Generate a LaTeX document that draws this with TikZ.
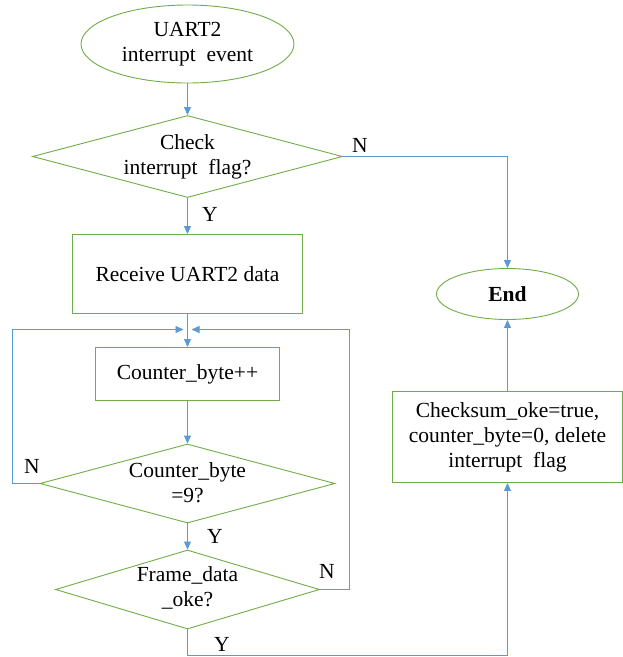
\documentclass[tikz,border=0pt]{standalone}
\usepackage{fontspec}
\setmainfont{Liberation Serif}
\usetikzlibrary{shapes.geometric,arrows.meta}
\definecolor{boxgreen}{RGB}{112,173,71}
\definecolor{flowblue}{RGB}{91,155,213}
\begin{document}
\begin{tikzpicture}[x=1pt,y=-1pt,
  flowtext/.style={font=\fontsize{21.5}{25}\selectfont, align=center, text=black},
  shapeline/.style={draw=boxgreen, line width=0.9pt, inner sep=0pt},
  startend/.style={ellipse, shapeline, flowtext},
  proc/.style={rectangle, shapeline, flowtext},
  decision/.style={diamond, shapeline},
  link/.style={draw=flowblue, line width=0.9pt, -{Triangle[width=7pt,length=8pt]}},
  tag/.style={font=\fontsize{21.5}{25}\selectfont, inner sep=0pt}]
\useasboundingbox (0,0) rectangle (623,657);

% main column
\node[startend, minimum width=213pt, minimum height=78pt] (start) at (187.5,44) {UART2\\interrupt\ \ event};
\node[decision, minimum width=310pt, minimum height=82pt] (d1) at (187.5,156.5) {};
\node[flowtext] (d1t) at (d1.center) {Check\\interrupt\ \ flag?};
\node[proc, minimum width=230pt, minimum height=79pt] (recv) at (187.5,274) {Receive UART2 data};
\node[proc, minimum width=184pt, minimum height=53pt] (cnt) at (187.5,374) {Counter\_byte++};
\node[decision, minimum width=295pt, minimum height=79pt] (d2) at (187.5,483.5) {};
\node[flowtext] (d2t) at ([yshift=1pt]d2.center) {Counter\_byte\\=9?};
\node[decision, minimum width=264pt, minimum height=79pt] (d3) at (187.5,589.5) {};
\node[flowtext] (d3t) at ([yshift=2pt]d3.center) {Frame\_data\\\_oke?};

% right column
\node[startend, minimum width=142pt, minimum height=51pt, font=\fontsize{21.5}{25}\selectfont\bfseries] (endn) at (507.5,294) {End};
\node[proc, minimum width=230pt, minimum height=91pt] (cks) at (507.5,437) {Checksum\_oke=true,\\counter\_byte=0, delete\\interrupt\ \ flag};

% routing points
\coordinate (mL) at (183.5,329.5);
\coordinate (mR) at (191.5,329.5);
\coordinate (lx) at (12.5,329.5);
\coordinate (rx) at (349.5,329.5);
\coordinate (by) at (187.5,655.5);

% connectors
\draw[link] (start) -- (d1);
\draw[link] (d1) -- (recv);
\draw[link] (d1.east) -| (endn.north);
\draw[link] (recv) -- (cnt);
\draw[link] (cnt) -- (d2);
\draw[link] (d2) -- (d3);
\draw[link] (d2.west) -| (lx) -- (mL);
\draw[link] (d3.east) -| (rx) -- (mR);
\draw[link] (d3.south) -- (by) -| (cks.south);
\draw[link] (cks) -- (endn);

% branch labels
\node[tag] (n1) at (360,145) {N};
\node[tag] (y1) at (210,214) {Y};
\node[tag] (n2) at (32,466) {N};
\node[tag] (y2) at (215,536) {Y};
\node[tag] (n3) at (327,571) {N};
\node[tag] (y3) at (222,644) {Y};
\end{tikzpicture}
\end{document}
